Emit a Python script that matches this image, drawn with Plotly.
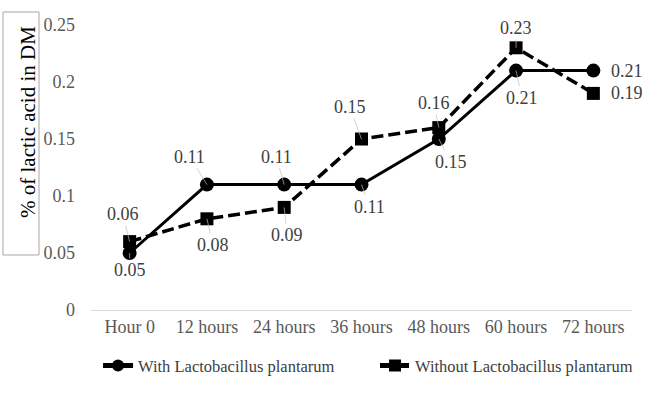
import plotly.graph_objects as go

categories = ["Hour 0", "12 hours", "24 hours", "36 hours", "48 hours", "60 hours", "72 hours"]
with_lp = [0.05, 0.11, 0.11, 0.11, 0.15, 0.21, 0.21]
without_lp = [0.06, 0.08, 0.09, 0.15, 0.16, 0.23, 0.19]
name_with = "With Lactobacillus plantarum"
name_without = "Without Lactobacillus plantarum"
y_title = "% of lactic acid in DM"

# label offsets (pixels) for data labels
off_with = [(0, 17), (-17, -28), (-8, -28), (8, 22), (12, 23), (6, 27), (34, 0)]
off_without = [(-7, -28), (6, 26), (3, 28), (-12, -32), (-5, -25), (0, -20), (34, 0)]

FONT = "Liberation Serif"
LBL = dict(family=FONT, size=18, color="#404040")
fig = go.Figure()
fig.add_trace(go.Scatter(
    x=categories, y=with_lp, name=name_with, mode="lines+markers",
    line=dict(color="black", width=3),
    marker=dict(symbol="circle", size=14, color="black"),
    legend="legend",
))
fig.add_trace(go.Scatter(
    x=categories, y=without_lp, name=name_without, mode="lines+markers",
    line=dict(color="black", width=3.5, dash="12px,5px"),
    marker=dict(symbol="square", size=13, color="black"),
    legend="legend2",
))

annotations = []
for vals, offs in ((with_lp, off_with), (without_lp, off_without)):
    for c, v, (dx, dy) in zip(categories, vals, offs):
        if c == categories[-1]:
            annotations.append(dict(x=c, y=v, text=f"{v:g}", showarrow=False,
                                    xshift=dx, yshift=-dy, font=LBL))
        else:
            annotations.append(dict(x=c, y=v, text=f"{v:g}", showarrow=True,
                                    ax=dx, ay=dy, arrowhead=0, arrowwidth=0.7,
                                    arrowcolor="#c0c0c0", standoff=0, font=LBL))

annotations.append(dict(xref="paper", yref="paper", x=-0.1155, y=0.658,
                        xanchor="center", yanchor="middle",
                        text=y_title, textangle=-90, showarrow=False,
                        font=dict(family=FONT, size=21, color="black")))

leg_common = dict(orientation="h", xanchor="left", y=-0.196, yanchor="middle",
                  font=dict(family=FONT, size=16.5, color="#404040"),
                  itemsizing="constant", bgcolor="rgba(0,0,0,0)")

fig.update_layout(
    width=650, height=395,
    margin=dict(l=91, r=18, t=25, b=85, autoexpand=False),
    plot_bgcolor="white", paper_bgcolor="white",
    font=dict(family=FONT, size=18, color="#595959"),
    showlegend=True,
    legend=dict(x=0.013, **leg_common),
    legend2=dict(x=0.525, **leg_common),
    annotations=annotations,
    shapes=[dict(type="rect", xref="paper", yref="paper",
                 x0=-0.1627, x1=-0.0961, y0=0.193, y1=1.0456,
                 line=dict(color="#a6a6a6", width=1))],
)
fig.update_xaxes(showgrid=False, showline=True, linecolor="#d9d9d9", linewidth=1,
                 ticks="", tickfont=dict(family=FONT, size=18, color="#595959"),
                 range=[-0.5, 6.5], zeroline=False, automargin=False)
fig.update_yaxes(range=[0, 0.25], tickvals=[0, 0.05, 0.1, 0.15, 0.2, 0.25],
                 ticktext=["0", "0.05", "0.1", "0.15", "0.2", "0.25"],
                 showgrid=False, zeroline=False, showline=False, automargin=False,
                 ticklabelstandoff=15,
                 tickfont=dict(family=FONT, size=18, color="#595959"))

fig.write_html("out.html", config={"displayModeBar": False},
               post_script="document.body.style.margin='0';")
